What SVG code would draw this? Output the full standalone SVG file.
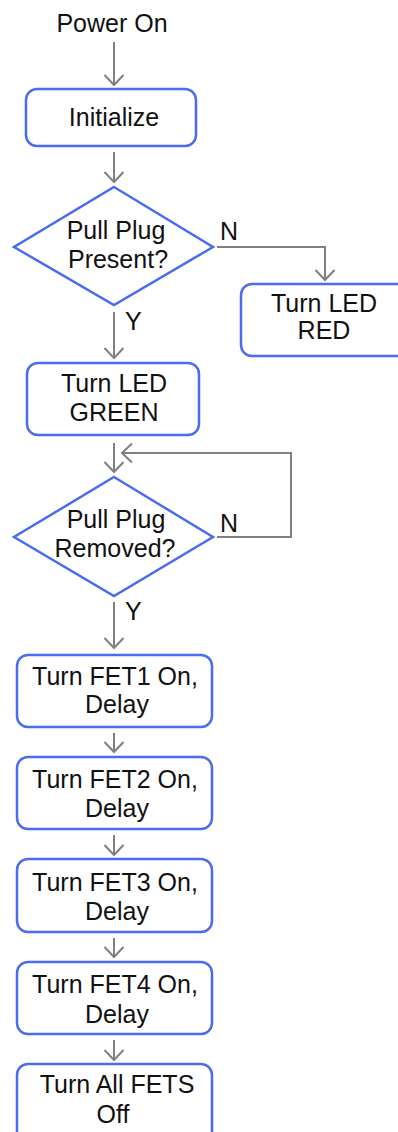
<svg xmlns="http://www.w3.org/2000/svg" width="398" height="1132" viewBox="0 0 398 1132">
<style>
.box{fill:#fff;stroke:#4a6cf0;stroke-width:2.5}
.t{font-family:"Liberation Sans",Arial,sans-serif;font-size:25px;fill:#111;text-anchor:middle}
.l{font-family:"Liberation Sans",Arial,sans-serif;font-size:25px;fill:#111}
.c{fill:none;stroke:#808080;stroke-width:2}
</style>
<defs>
<marker id="a" markerUnits="userSpaceOnUse" markerWidth="24" markerHeight="24" refX="12" refY="12" orient="auto" viewBox="0 0 24 24">
<path d="M2,2.5 L12,12 L2,21.5" fill="none" stroke="#808080" stroke-width="2"/>
</marker>
</defs>
<rect width="398" height="1132" fill="#fff"/>
<g id="connectors">
<path class="c" d="M114,42 V85" marker-end="url(#a)"/>
<path class="c" d="M114,152 V182" marker-end="url(#a)"/>
<path class="c" d="M217,247 H325 V280" marker-end="url(#a)"/>
<path class="c" d="M114,312 V358" marker-end="url(#a)"/>
<path class="c" d="M114,443 V472" marker-end="url(#a)"/>
<path class="c" d="M217,537 H291 V453 H122" marker-end="url(#a)"/>
<path class="c" d="M114,602 V648" marker-end="url(#a)"/>
<path class="c" d="M114,733 V752" marker-end="url(#a)"/>
<path class="c" d="M114,835 V855" marker-end="url(#a)"/>
<path class="c" d="M114,938 V957" marker-end="url(#a)"/>
<path class="c" d="M114,1040 V1060" marker-end="url(#a)"/>
<text class="l" x="220" y="240">N</text>
<text class="l" x="125" y="330">Y</text>
<text class="l" x="220" y="532">N</text>
<text class="l" x="125" y="620">Y</text>
</g>
<g id="power-on"><text class="t" x="112" y="32">Power On</text></g>
<g id="initialize">
<rect class="box" x="26" y="89" width="170" height="57" rx="11"/>
<text class="t" x="114" y="126">Initialize</text>
</g>
<g id="plug-present">
<polygon class="box" points="114,187 213,247 114,305 14,247"/>
<text class="t" x="116" y="239">Pull Plug</text>
<text class="t" x="118" y="268">Present?</text>
</g>
<g id="led-red">
<rect class="box" x="241" y="284" width="170" height="72" rx="11"/>
<text class="t" x="324" y="312">Turn LED</text>
<text class="t" x="324" y="339">RED</text>
</g>
<g id="led-green">
<rect class="box" x="27" y="363" width="172" height="72" rx="11"/>
<text class="t" x="114" y="392">Turn LED</text>
<text class="t" x="114" y="421">GREEN</text>
</g>
<g id="plug-removed">
<polygon class="box" points="114,477 213,537 114,596 14,537"/>
<text class="t" x="116" y="528">Pull Plug</text>
<text class="t" x="115" y="557">Removed?</text>
</g>
<g id="fet1">
<rect class="box" x="17" y="655" width="195" height="72" rx="11"/>
<text class="t" x="115" y="685">Turn FET1 On,</text>
<text class="t" x="117" y="713">Delay</text>
</g>
<g id="fet2">
<rect class="box" x="17" y="757" width="195" height="72" rx="11"/>
<text class="t" x="115" y="788">Turn FET2 On,</text>
<text class="t" x="117" y="817">Delay</text>
</g>
<g id="fet3">
<rect class="box" x="17" y="859" width="195" height="73" rx="11"/>
<text class="t" x="115" y="891">Turn FET3 On,</text>
<text class="t" x="117" y="920">Delay</text>
</g>
<g id="fet4">
<rect class="box" x="17" y="962" width="195" height="72" rx="11"/>
<text class="t" x="115" y="993">Turn FET4 On,</text>
<text class="t" x="117" y="1023">Delay</text>
</g>
<g id="fets-off">
<rect class="box" x="17" y="1064" width="195" height="80" rx="11"/>
<text class="t" x="117" y="1093">Turn All FETS</text>
<text class="t" x="113" y="1123">Off</text>
</g>
</svg>
